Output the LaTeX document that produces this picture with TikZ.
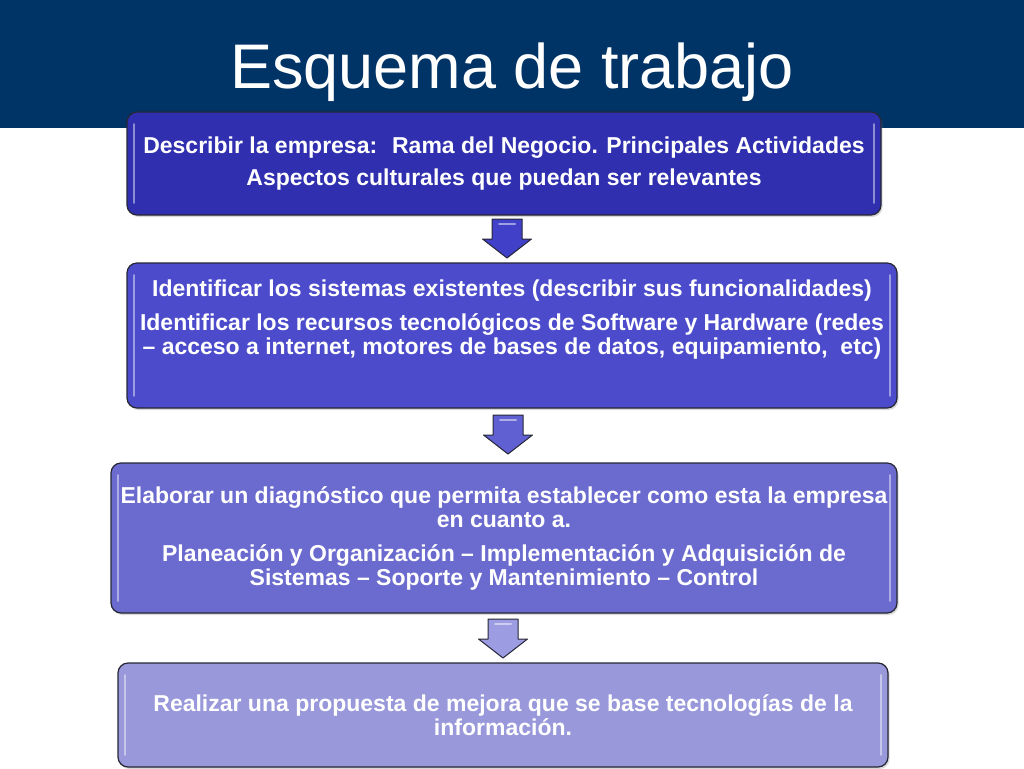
\documentclass[tikz,border=0pt]{standalone}
\usepackage{fontspec}
\setmainfont{Liberation Sans}
\usetikzlibrary{positioning,shadows}
\definecolor{cabecera}{RGB}{0,51,102}
\definecolor{borde}{RGB}{38,38,52}
\definecolor{caja1}{RGB}{47,47,175}
\definecolor{caja2}{RGB}{75,75,203}
\definecolor{caja3}{RGB}{107,107,207}
\definecolor{caja4}{RGB}{152,152,218}
\definecolor{flecha1}{RGB}{64,64,200}
\definecolor{flecha2}{RGB}{96,96,210}
\definecolor{flecha3}{RGB}{156,156,226}
\tikzstyle{paso} = [rectangle, rounded corners=10pt, draw=borde, line width=1.2pt, outer sep=0pt, text=white, align=center, font=\bfseries\fontsize{23}{24}\selectfont, drop shadow={shadow xshift=1.5pt, shadow yshift=-2pt, opacity=.3}, path picture={\draw[white, opacity=.45, line width=1.8pt, line cap=round] ([xshift=7pt,yshift=-12pt]path picture bounding box.north west) -- ([xshift=7pt,yshift=12pt]path picture bounding box.south west); \draw[white, opacity=.45, line width=1.8pt, line cap=round] ([xshift=-7pt,yshift=-12pt]path picture bounding box.north east) -- ([xshift=-7pt,yshift=12pt]path picture bounding box.south east);}]
\tikzstyle{titulo} = [text=white, anchor=base, font=\fontsize{63}{70}\selectfont]
\tikzstyle{flecha} = [draw=borde, line width=1pt, line join=round]
\tikzset{flechabloque/.pic={
  \draw[flecha, pic actions] (-15,0) -- (15,0) -- (15,20) -- (24.5,20) -- (0,39) -- (-24.5,20) -- (-15,20) -- cycle;
  \draw[white, opacity=.5, line width=2pt, line cap=round] (-8,5) -- (8,5);
}}

\begin{document}
\begin{tikzpicture}[x=1pt,y=-1pt]
\useasboundingbox (0,0) rectangle (1024,768);
\fill[cabecera] (0,0) rectangle (1024,128);
\node(titulo) [titulo] at (512,88) {Esquema de trabajo};

\node(empresa) [paso, fill=caja1, minimum width=754pt, minimum height=103pt] at (504,163.5) {Describir la empresa:~ Rama del Negocio. Principales Actividades\\[8pt] Aspectos culturales que puedan ser relevantes};
\node(sistemas) [paso, fill=caja2, minimum width=770pt, minimum height=145pt, below=48pt of empresa, xshift=8pt] {Identificar los sistemas existentes (describir sus funcionalidades)\\[10pt] Identificar los recursos tecnológicos de Software y Hardware (redes\\ – acceso a internet, motores de bases de datos, equipamiento,~ etc)\\[12pt]\mbox{}};
\node(diagnostico) [paso, fill=caja3, minimum width=786pt, minimum height=150pt, below=55pt of sistemas, xshift=-8pt] {Elaborar un diagnóstico que permita establecer como esta la empresa\\ en cuanto a.\\[10pt] Planeación y Organización – Implementación y Adquisición de\\ Sistemas – Soporte y Mantenimiento – Control};
\node(propuesta) [paso, fill=caja4, minimum width=770pt, minimum height=104pt, below=50pt of diagnostico, xshift=-1pt] {Realizar una propuesta de mejora que se base tecnologías de la\\ información.};

\pic[fill=flecha1] at ([xshift=3pt,yshift=-4pt]empresa.south) {flechabloque};
\pic[fill=flecha2] at ([xshift=-4pt,yshift=-7pt]sistemas.south) {flechabloque};
\pic[fill=flecha3] at ([xshift=-1pt,yshift=-6pt]diagnostico.south) {flechabloque};

\end{tikzpicture}
\end{document}
